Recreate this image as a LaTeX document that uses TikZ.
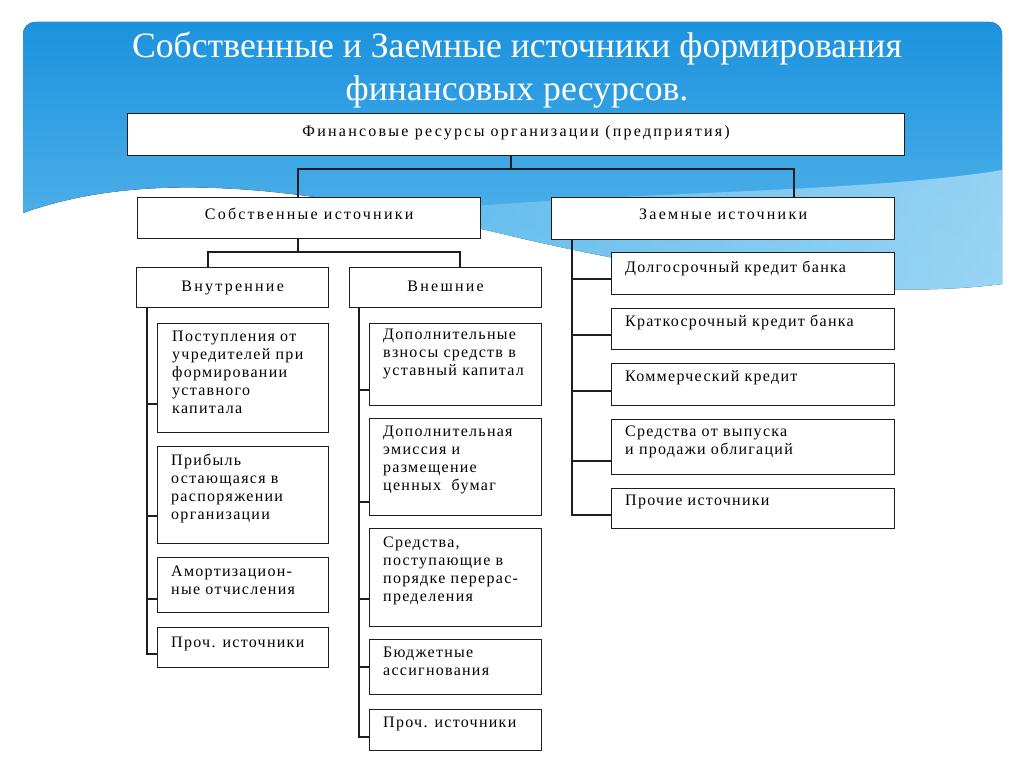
\documentclass[tikz,border=0pt]{standalone}
\usepackage{fontspec}
\setmainfont{Liberation Serif}
\newfontfamily\itemfont{Liberation Serif}[LetterSpace=8]
\newfontfamily\hdrfont{Liberation Serif}[LetterSpace=14]
\usetikzlibrary{calc}
\definecolor{skyA}{RGB}{28,146,222}
\definecolor{skyB}{RGB}{100,190,238}
\definecolor{skyL}{RGB}{170,220,246}
\definecolor{lineC}{RGB}{30,30,30}
\begin{document}
\begin{tikzpicture}[x=1pt,y=-1pt,
  box/.style={draw=lineC, line width=1.3pt, fill=white, inner sep=0pt, anchor=north west},
  hdrtxt/.style={font=\hdrfont\fontsize{16}{18}\selectfont, inner sep=0pt, anchor=base, text=black},
  itemtxt/.style={font=\itemfont\fontsize{16}{18}\selectfont, inner sep=0pt, anchor=north west, align=left, text=black},
  conn/.style={line width=1.2pt, draw=lineC},
  titletxt/.style={font=\fontsize{35.7}{43}\selectfont, text=white, inner sep=0pt, align=center, anchor=north}]
\useasboundingbox (0,0) rectangle (1024,767);
\fill[white] (0,0) rectangle (1024,767);
% sky background with wave
\begin{scope}
  \clip (0,0) -- (1024,0) -- (1024,284) -- (1002,284)
        .. controls (880,300) and (700,280) .. (520,238)
        .. controls (360,200) and (170,160) .. (23,213) -- (0,213) -- cycle;
  \fill[top color=skyA, bottom color=skyB, rounded corners=12] (23,22) rectangle (1002,320);
  \shade[left color=skyB, right color=skyL, opacity=0.8] (380,215) .. controls (600,190) and (850,195) .. (1002,170)
        -- (1002,300) -- (380,300) -- cycle;
\end{scope}
% title
\node[titletxt] (title) at (517,27) {\strut Собственные и Заемные источники формирования\\финансовых ресурсов.};
% boxes
\node[box, minimum width=777pt, minimum height=42pt] (top) at (127,113) {};
\node[box, minimum width=343pt, minimum height=41pt] (sob) at (137,197) {};
\node[box, minimum width=343pt, minimum height=42pt] (zaem) at (551,197) {};
\node[box, minimum width=192pt, minimum height=40pt] (inn) at (136,267) {};
\node[box, minimum width=192pt, minimum height=40pt] (vne) at (349,267) {};
\node[box, minimum width=171pt, minimum height=109pt] (i1) at (157,323) {};
\node[box, minimum width=171pt, minimum height=97pt] (i2) at (157,446) {};
\node[box, minimum width=171pt, minimum height=55pt] (i3) at (157,557) {};
\node[box, minimum width=171pt, minimum height=40pt] (i4) at (157,627) {};
\node[box, minimum width=172pt, minimum height=82pt] (e1) at (369,323) {};
\node[box, minimum width=172pt, minimum height=97pt] (e2) at (369,418) {};
\node[box, minimum width=172pt, minimum height=98pt] (e3) at (369,528) {};
\node[box, minimum width=172pt, minimum height=55pt] (e4) at (369,639) {};
\node[box, minimum width=172pt, minimum height=41pt] (e5) at (369,709) {};
\node[box, minimum width=283pt, minimum height=42pt] (z1) at (611,252) {};
\node[box, minimum width=283pt, minimum height=41pt] (z2) at (611,308) {};
\node[box, minimum width=283pt, minimum height=42pt] (z3) at (611,363) {};
\node[box, minimum width=283pt, minimum height=55pt] (z4) at (611,419) {};
\node[box, minimum width=283pt, minimum height=40pt] (z5) at (611,488) {};
% header texts
\node[hdrtxt] (topt) at ([shift={(0,24)}]top.north) {Финансовые ресурсы организации (предприятия)};
\node[hdrtxt] (sobt) at ([shift={(0,22)}]sob.north) {Собственные источники};
\node[hdrtxt] (zaemt) at ([shift={(0,22)}]zaem.north) {Заемные источники};
\node[hdrtxt] (innt) at ([shift={(0,24)}]inn.north) {Внутренние};
\node[hdrtxt] (vnet) at ([shift={(0,24)}]vne.north) {Внешние};
% item texts
\node[itemtxt] (i1t) at ([shift={(15,6)}]i1.north west) {\strut Поступления от\\учредителей при\\формировании\\уставного\\капитала};
\node[itemtxt] (i2t) at ([shift={(14,7)}]i2.north west) {\strut Прибыль\\остающаяся в\\распоряжении\\организации};
\node[itemtxt] (i3t) at ([shift={(14,7)}]i3.north west) {\strut Амортизацион-\\ные отчисления};
\node[itemtxt] (i4t) at ([shift={(14,8)}]i4.north west) {\strut Проч. источники};
\node[itemtxt] (e1t) at ([shift={(14,4)}]e1.north west) {\strut Дополнительные\\взносы средств в\\уставный капитал};
\node[itemtxt] (e2t) at ([shift={(14,6)}]e2.north west) {\strut Дополнительная\\эмиссия и\\размещение\\ценных\ \ бумаг};
\node[itemtxt] (e3t) at ([shift={(14,7)}]e3.north west) {\strut Средства,\\поступающие в\\порядке перерас-\\пределения};
\node[itemtxt] (e4t) at ([shift={(14,6)}]e4.north west) {\strut Бюджетные\\ассигнования};
\node[itemtxt] (e5t) at ([shift={(14,6)}]e5.north west) {\strut Проч. источники};
\node[itemtxt] (z1t) at ([shift={(14,8)}]z1.north west) {\strut Долгосрочный кредит банка};
\node[itemtxt] (z2t) at ([shift={(14,6)}]z2.north west) {\strut Краткосрочный кредит банка};
\node[itemtxt] (z3t) at ([shift={(14,6)}]z3.north west) {\strut Коммерческий кредит};
\node[itemtxt] (z4t) at ([shift={(14,5)}]z4.north west) {\strut Средства от выпуска\\и продажи облигаций};
\node[itemtxt] (z5t) at ([shift={(14,5)}]z5.north west) {\strut Прочие источники};
% connectors level 1
\coordinate (busA) at (511,169);
\draw[conn] (top.south -| busA) -- (busA);
\draw[conn] (sob.north -| 298,0) |- (busA) -| (zaem.north -| 794,0);
% level 2
\coordinate (busB) at (298,252);
\draw[conn] (sob.south -| busB) -- (busB);
\draw[conn] (inn.north -| 208,0) |- (busB) -| (vne.north -| 460,0);
% spines
\coordinate (sI) at (147,0);
\coordinate (sE) at (359,0);
\coordinate (sZ) at (572,0);
\coordinate (i4in) at ([shift={(0,27)}]i4.north west);
\coordinate (e5in) at ([shift={(0,28)}]e5.north west);
\coordinate (z5in) at ([shift={(0,27)}]z5.north west);
\draw[conn] (inn.south -| sI) |- (i4in);
\draw[conn] (vne.south -| sE) |- (e5in);
\draw[conn] (zaem.south -| sZ) |- (z5in);
% ticks
\foreach \b/\d in {i1/81,i2/70,i3/42}
  \draw[conn] ([shift={(0,\d)}]\b.north west) -- ++(-10,0);
\foreach \b/\d in {e1/67,e2/84,e3/71,e4/28}
  \draw[conn] ([shift={(0,\d)}]\b.north west) -- ++(-10,0);
\foreach \b/\d in {z1/27,z2/27,z3/28,z4/42}
  \draw[conn] ([shift={(0,\d)}]\b.north west) -- ++(-39,0);
\end{tikzpicture}
\end{document}
